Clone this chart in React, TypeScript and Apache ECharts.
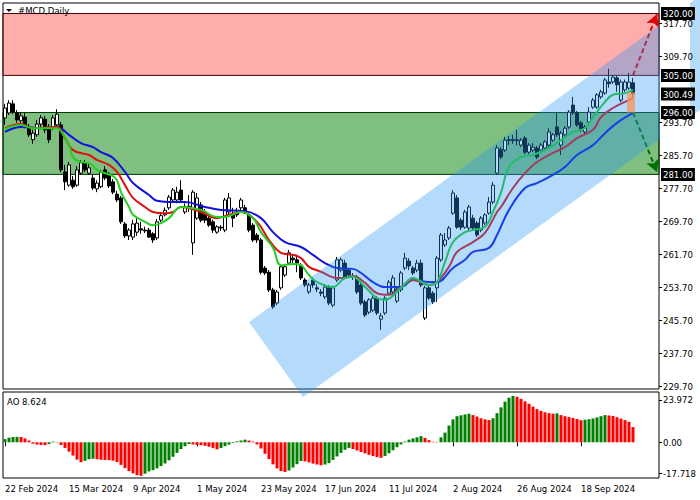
import React, { useEffect, useRef } from "react";
import * as echarts from "echarts";

const SYMBOL_TITLE = "#MCD,Daily";
const AO_TITLE = "AO 8.624";
const xTickLabels = ["22 Feb 2024", "15 Mar 2024", "9 Apr 2024", "1 May 2024", "23 May 2024", "17 Jun 2024", "11 Jul 2024", "2 Aug 2024", "26 Aug 2024", "18 Sep 2024"];
const TICK_EVERY = 16;
const BAR_COUNT = 158;
const SLOT_COUNT = 164;

// [open, close, low, high]
const candles: number[][] = [
  [294.7, 297.1, 293.0, 298.1], [295.9, 298.3, 295.4, 299.0], [298.1, 296.1, 295.6, 299.0], [295.9, 294.2, 293.5, 296.6],
  [294.0, 295.2, 293.5, 296.1], [294.9, 293.0, 292.2, 295.9], [292.5, 290.6, 290.1, 293.2], [289.4, 291.0, 288.4, 291.8],
  [290.6, 293.2, 290.1, 294.2], [293.2, 294.7, 292.5, 295.4], [294.4, 291.8, 291.0, 295.2], [292.2, 289.4, 288.6, 293.2],
  [292.2, 294.7, 291.8, 295.4], [293.0, 295.6, 292.5, 296.8], [293.0, 282.1, 281.5, 293.7], [281.6, 279.2, 277.2, 283.3],
  [278.4, 283.3, 278.0, 284.0], [279.6, 278.0, 277.5, 280.6], [278.4, 282.1, 278.0, 283.0], [281.3, 283.8, 280.9, 284.5],
  [283.8, 282.1, 281.6, 284.5], [281.3, 282.6, 280.9, 283.5], [280.1, 277.7, 277.2, 280.9], [277.5, 278.9, 276.7, 279.6],
  [278.0, 281.6, 277.7, 282.1], [282.1, 280.1, 279.6, 283.0], [281.1, 278.2, 277.7, 281.6], [279.2, 276.7, 276.2, 279.9],
  [276.2, 274.8, 274.3, 277.0], [275.3, 269.5, 269.0, 275.8], [269.0, 266.1, 265.6, 269.5], [266.1, 267.5, 265.1, 268.0],
  [265.8, 269.0, 265.1, 270.0], [267.0, 269.2, 266.1, 270.4], [267.8, 267.5, 266.6, 269.5], [267.5, 267.3, 266.8, 268.3],
  [267.5, 265.8, 265.6, 268.0], [266.6, 265.1, 264.4, 267.0], [265.6, 269.5, 265.1, 270.2], [269.9, 271.0, 269.4, 271.7],
  [271.2, 272.3, 270.8, 273.0], [272.9, 275.5, 272.4, 276.0], [274.8, 277.2, 274.3, 277.7], [274.8, 276.7, 274.0, 278.0],
  [277.2, 274.8, 274.3, 279.6], [271.9, 273.1, 271.4, 274.0], [273.1, 273.3, 271.9, 276.0], [264.4, 276.7, 261.5, 277.2],
  [270.4, 275.3, 270.0, 276.5], [273.6, 269.9, 269.4, 274.3], [271.9, 269.9, 269.2, 272.6], [270.4, 268.7, 268.3, 271.2],
  [269.5, 267.5, 266.8, 270.0], [267.0, 268.3, 266.6, 268.7], [268.2, 268.0, 267.3, 268.7], [267.5, 274.8, 267.0, 275.3],
  [271.9, 275.3, 271.4, 276.5], [271.2, 270.4, 268.2, 272.9], [271.6, 271.2, 270.7, 272.9], [272.9, 274.8, 272.1, 275.3],
  [272.9, 271.9, 271.4, 273.6], [271.2, 267.5, 267.0, 271.6], [268.7, 265.1, 264.6, 269.2], [266.3, 265.1, 264.4, 266.8],
  [265.1, 257.3, 256.8, 265.6], [258.3, 257.1, 256.6, 258.8], [257.3, 253.0, 252.5, 257.8], [253.0, 248.9, 248.4, 253.5],
  [249.8, 252.5, 249.3, 253.0], [253.5, 258.6, 253.0, 259.0], [256.6, 258.6, 256.1, 259.3], [259.5, 262.0, 259.0, 262.7],
  [260.7, 260.3, 259.5, 261.5], [260.3, 259.5, 257.3, 261.5], [259.0, 255.9, 255.4, 259.5], [255.4, 254.2, 253.7, 255.9],
  [252.5, 254.2, 252.0, 254.7], [255.4, 254.2, 253.5, 256.1], [253.5, 253.2, 252.5, 254.4], [252.5, 252.2, 251.5, 253.2],
  [251.3, 253.7, 250.8, 254.4], [253.5, 249.8, 249.3, 254.2], [249.3, 253.5, 248.8, 254.0], [255.4, 260.3, 254.9, 261.0],
  [257.8, 260.3, 257.3, 260.8], [259.5, 256.1, 255.6, 260.3], [257.8, 256.6, 256.1, 258.3], [256.3, 256.1, 255.4, 257.1],
  [256.1, 252.5, 252.0, 256.6], [254.2, 249.8, 249.3, 254.7], [250.1, 246.9, 246.4, 250.6], [247.6, 250.6, 247.1, 251.0],
  [248.1, 251.0, 247.6, 251.5], [251.0, 247.4, 246.9, 251.5], [245.9, 246.7, 243.3, 247.4], [247.4, 251.0, 246.9, 251.5],
  [252.2, 254.9, 251.8, 255.4], [252.5, 255.9, 252.0, 256.6], [250.3, 253.2, 249.8, 253.7], [253.0, 257.1, 252.5, 257.6],
  [258.3, 260.7, 257.8, 262.0], [260.0, 258.8, 257.8, 260.7], [258.3, 257.1, 256.6, 258.8], [257.8, 259.5, 257.3, 260.3],
  [259.5, 254.2, 253.7, 260.3], [246.2, 253.5, 245.7, 254.0], [253.5, 251.0, 250.6, 254.0], [252.2, 250.1, 249.6, 252.7],
  [253.5, 260.7, 250.1, 261.2], [260.3, 266.3, 259.8, 266.8], [263.9, 265.1, 263.4, 266.8], [265.6, 268.0, 265.1, 268.5],
  [271.6, 276.5, 271.2, 277.2], [275.3, 268.2, 267.8, 276.0], [269.9, 268.2, 267.5, 270.4], [268.2, 271.9, 267.8, 272.4],
  [268.0, 273.1, 267.5, 273.6], [270.4, 268.0, 267.5, 271.2], [269.2, 266.3, 265.8, 269.7], [267.5, 270.4, 267.0, 270.9],
  [269.2, 271.2, 268.7, 271.6], [271.6, 274.3, 271.2, 275.5], [274.3, 278.4, 273.8, 279.2], [281.3, 287.4, 280.9, 288.1],
  [287.0, 285.2, 284.7, 287.6], [286.9, 289.3, 286.4, 290.1], [289.4, 289.2, 288.1, 290.3], [289.2, 289.5, 288.4, 290.6],
  [289.4, 289.2, 288.1, 291.8], [288.1, 289.3, 287.6, 289.8], [289.8, 286.4, 285.9, 290.3], [286.4, 288.1, 285.9, 288.6],
  [286.9, 287.6, 286.4, 288.6], [287.4, 285.2, 284.7, 287.9], [286.9, 288.1, 286.4, 288.6], [287.4, 288.9, 286.9, 289.3],
  [288.1, 291.3, 287.6, 292.2], [289.3, 290.6, 288.9, 291.0], [292.5, 290.6, 290.1, 295.9], [288.1, 291.0, 285.7, 291.5],
  [290.6, 292.2, 290.1, 292.7], [292.5, 296.1, 292.0, 296.6], [297.8, 295.9, 295.4, 299.8], [295.9, 293.0, 292.5, 296.4],
  [293.5, 291.8, 291.3, 294.0], [291.3, 292.5, 290.8, 293.0], [293.7, 296.1, 293.2, 297.3], [297.3, 299.0, 296.9, 299.5],
  [297.3, 300.3, 296.9, 300.7], [299.8, 301.0, 299.3, 301.5], [300.7, 303.9, 300.3, 304.4], [303.4, 303.0, 302.0, 306.6],
  [303.4, 304.6, 302.9, 305.1], [304.4, 302.7, 301.0, 304.9], [299.0, 303.4, 298.5, 304.0], [301.5, 303.4, 301.0, 304.0],
  [301.9, 303.4, 301.5, 305.6], [303.2, 300.49, 299.5, 304.4],
];

// moving averages: [bar index, price]
const lipsLine: number[][] = [
  [0, 292.0], [4, 293.0], [7, 292.2], [9, 292.2], [13, 292.2], [14, 291.5], [16, 288.1], [17, 285.2], [19, 284.0], [21, 283.8],
  [23, 282.1], [25, 281.3], [27, 280.6], [28, 279.6], [29, 276.7], [31, 273.1], [32, 271.2], [35, 269.5], [37, 268.7], [39, 269.2],
  [41, 270.4], [44, 273.1], [49, 272.4], [53, 270.7], [55, 270.7], [59, 271.9], [62, 270.4], [64, 267.0], [67, 263.2], [69, 259.0],
  [72, 259.3], [74, 259.0], [76, 256.6], [78, 254.9], [82, 253.7], [85, 255.9], [87, 256.1], [90, 253.7], [93, 251.0], [95, 250.6],
  [99, 253.5], [102, 255.9], [106, 254.2], [108, 254.9], [110, 259.8], [112, 264.6], [115, 267.0], [117, 267.5], [120, 268.3],
  [122, 271.9], [124, 276.6], [126, 282.8], [129, 285.2], [132, 285.7], [136, 287.4], [139, 289.3], [142, 291.3], [145, 292.2],
  [147, 294.9], [150, 298.6], [152, 300.3], [155, 300.7], [157, 301.5],
];
const teethLine: number[][] = [
  [0, 292.2], [4, 293.2], [7, 292.2], [13, 292.5], [15, 289.8], [17, 286.9], [21, 285.7], [23, 284.5], [26, 283.3], [28, 281.6],
  [30, 278.4], [32, 275.3], [35, 273.1], [37, 271.9], [40, 271.6], [42, 271.9], [44, 273.1], [49, 271.9], [53, 270.4], [56, 271.2],
  [59, 271.9], [63, 269.5], [66, 265.1], [69, 262.0], [72, 261.5], [74, 260.7], [76, 258.6], [79, 257.4], [83, 255.9], [85, 255.9],
  [87, 256.4], [90, 254.7], [93, 252.2], [96, 251.8], [99, 253.7], [102, 255.4], [106, 254.2], [108, 254.9], [111, 258.6],
  [113, 262.2], [117, 264.6], [120, 266.8], [123, 271.9], [124, 273.1], [127, 277.7], [130, 281.3], [133, 284.0], [137, 286.2],
  [140, 287.6], [143, 289.8], [147, 291.8], [149, 294.9], [152, 297.1], [155, 298.6], [157, 299.5],
];
const jawLine: number[][] = [
  [0, 291.3], [4, 292.5], [9, 292.2], [13, 292.5], [16, 290.6], [19, 288.6], [22, 287.6], [24, 286.4], [27, 285.0], [30, 281.6],
  [32, 278.9], [36, 276.0], [38, 274.6], [42, 274.3], [45, 274.3], [50, 273.1], [54, 272.4], [60, 272.1], [64, 270.4], [67, 267.0],
  [70, 264.6], [74, 263.4], [77, 261.5], [80, 259.5], [83, 258.3], [87, 258.1], [89, 257.1], [92, 254.9], [95, 253.7], [99, 253.7],
  [102, 255.4], [106, 254.9], [108, 254.9], [112, 258.3], [115, 260.3], [117, 262.2], [121, 263.2], [123, 266.3], [126, 272.4],
  [130, 277.7], [133, 278.9], [137, 280.9], [140, 282.8], [143, 285.7], [147, 288.1], [150, 291.0], [153, 293.5], [157, 295.9],
];

const aoValues: number[] = [
  1.8, 2.6, 3.0, 3.1, 3.0, 2.2, 1.0, -0.8, -1.3, -1.5, -1.6, -1.0, 0.4, 0.2, -1.5, -3.2, -5.3, -7.5, -9.8, -11.3,
  -10.5, -9.6, -9.3, -9.6, -9.9, -10.0, -10.1, -10.4, -11.2, -12.8, -14.6, -16.3, -17.6, -18.6, -19.0, -17.8, -16.5, -15.8, -14.8, -13.5,
  -12.0, -10.2, -8.2, -6.0, -3.8, -2.2, -1.0, -1.2, -1.5, -1.6, -2.0, -2.5, -3.2, -4.0, -3.2, -2.2, -1.3, -0.4, 0.5, 1.0,
  1.5, 1.0, 0.4, -1.2, -3.5, -6.5, -9.5, -12.5, -14.8, -16.3, -16.8, -16.0, -14.3, -12.4, -10.6, -10.8, -11.4, -12.1, -12.6, -13.0,
  -12.6, -11.8, -10.0, -8.0, -6.0, -4.2, -3.2, -3.8, -4.6, -5.5, -6.3, -7.1, -7.8, -8.4, -8.8, -7.8, -6.2, -4.5, -2.8, -1.2,
  0.4, 1.5, 2.2, 2.8, 3.5, 2.5, 1.2, 0.3, 0.2, 2.8, 5.5, 9.5, 13.0, 14.8, 15.3, 15.8, 16.2, 15.4, 14.6, 13.6,
  13.0, 12.6, 13.6, 16.5, 19.8, 23.0, 25.3, 26.3, 25.8, 24.6, 23.2, 21.8, 20.2, 18.8, 17.8, 17.0, 16.5, 16.2, 16.4, 15.4,
  14.8, 14.3, 13.8, 13.2, 12.5, 12.8, 13.1, 13.5, 14.1, 14.8, 15.4, 15.2, 14.9, 14.2, 13.4, 12.6, 11.6, 8.6,
];

// 301.70 sits under the 300.49 price box in the reference, so it is left out
const priceTicks = [229.7, 237.7, 245.7, 253.7, 261.7, 269.7, 277.7, 285.7, 293.7, 309.7, 317.7];
const aoTicks = [23.972, 0, -17.718];
const sellZone = [320, 305];
const buyZone = [296, 281];
const boxedLevels = [320, 305, 296, 281, 300.49];
// channel corners [bar index, price]
const channelCorners = [[61, 245.2], [180, 328.7], [193.5, 310.5], [74.5, 227.0]];
const upArrow = [[157, 305], [163, 319.8]];
const downArrow = [[157, 296], [162.5, 281.6]];
const lastBarBox = [[156, 300.9], [157, 296.0]];

const FONT = '"DejaVu Sans Condensed", "DejaVu Sans", sans-serif';
const FS = 9.5;

export default function App() {
  const ref = useRef<HTMLDivElement>(null);
  useEffect(() => {
    if (!ref.current) return;
    const chart = echarts.init(ref.current, undefined, { renderer: "svg" });
    const cats = Array.from({ length: SLOT_COUNT }, (_, i) => String(i));
    const showTick = (i: number) => i % TICK_EVERY === 0 && i < BAR_COUNT;
    const aoData = aoValues.map((v, i) => ({
      value: v,
      itemStyle: { color: i === 0 || v > aoValues[i - 1] ? "#008000" : "#ff0000" },
    }));
    const option: any = {
      animation: false,
      backgroundColor: "#fff",
      grid: [
        { left: 3, top: 3, width: 656, height: 386, show: true, borderColor: "#000", borderWidth: 1, backgroundColor: "transparent" },
        { left: 3, top: 392, width: 656, height: 86, show: true, borderColor: "#000", borderWidth: 1, backgroundColor: "transparent" },
      ],
      xAxis: [
        { type: "category", gridIndex: 0, data: cats, boundaryGap: true, axisLine: { show: false }, axisTick: { show: false }, axisLabel: { show: false }, splitLine: { show: false } },
        {
          type: "category", gridIndex: 1, data: cats, boundaryGap: true,
          axisLine: { show: false },
          axisTick: { show: true, interval: (i: number) => showTick(i), alignWithLabel: true, length: 4, lineStyle: { color: "#000" } },
          axisLabel: {
            interval: (i: number) => showTick(i),
            formatter: (_v: string, i: number) => (showTick(i) ? xTickLabels[i / TICK_EVERY] : ""),
            align: "left", margin: 5, color: "#000", fontSize: FS, fontFamily: FONT,
          },
          splitLine: { show: false },
        },
      ],
      yAxis: [
        {
          type: "value", gridIndex: 0, position: "right", min: 228.98, max: 322.55, z: 7,
          splitLine: { show: false }, axisLine: { show: false },
          axisTick: { show: true, customValues: priceTicks, length: 3, lineStyle: { color: "#000" } },
          axisLabel: { customValues: priceTicks, formatter: (v: number) => v.toFixed(2), color: "#000", fontSize: FS, fontFamily: FONT, margin: 4 },
        },
        {
          type: "value", gridIndex: 1, position: "right", min: -20.23, max: 28.5, z: 7,
          splitLine: { show: false }, axisLine: { show: false },
          axisTick: { show: true, customValues: aoTicks, length: 3, lineStyle: { color: "#000" } },
          axisLabel: { customValues: aoTicks, formatter: (v: number) => (v === 0 ? "0.00" : v.toFixed(3)), color: "#000", fontSize: FS, fontFamily: FONT, margin: 4 },
        },
      ],
      series: [
        {
          type: "candlestick", xAxisIndex: 0, yAxisIndex: 0, data: candles, barWidth: 3, z: 2,
          itemStyle: { color: "#ffffff", color0: "#000000", borderColor: "#000000", borderColor0: "#000000", borderWidth: 1 },
        },
        { type: "line", xAxisIndex: 0, yAxisIndex: 0, data: jawLine, smooth: 0.4, showSymbol: false, z: 3, lineStyle: { color: "#1010e0", width: 2 } },
        { type: "line", xAxisIndex: 0, yAxisIndex: 0, data: teethLine, smooth: 0.4, showSymbol: false, z: 3, lineStyle: { color: "#e01010", width: 2 } },
        { type: "line", xAxisIndex: 0, yAxisIndex: 0, data: lipsLine, smooth: 0.4, showSymbol: false, z: 3, lineStyle: { color: "#22d022", width: 2 } },
        {
          type: "line", xAxisIndex: 0, yAxisIndex: 0, data: [], z: 4, clip: false,
          markArea: {
            silent: true,
            data: [
              [{ yAxis: sellZone[0], itemStyle: { color: "rgba(255,70,70,0.45)", borderColor: "#500000", borderWidth: 1 } }, { yAxis: sellZone[1] }],
              [{ yAxis: buyZone[0], itemStyle: { color: "rgba(0,128,0,0.5)", borderColor: "#003800", borderWidth: 1 } }, { yAxis: buyZone[1] }],
            ],
          },
        },
        {
          type: "line", xAxisIndex: 0, yAxisIndex: 0, data: [], z: 6, clip: false,
          markLine: {
            silent: true, symbol: ["none", "arrow"], symbolSize: [10, 12],
            label: { show: false },
            data: [
              [{ coord: upArrow[0], lineStyle: { color: "#e00000", width: 2, type: [5, 3] }, itemStyle: { color: "#e00000" } }, { coord: upArrow[1] }],
              [{ coord: downArrow[0], lineStyle: { color: "#007000", width: 2, type: [5, 3] }, itemStyle: { color: "#007000" } }, { coord: downArrow[1] }],
            ],
          },
        },
        { type: "bar", xAxisIndex: 1, yAxisIndex: 1, data: aoData, barWidth: 3, z: 2 },
      ],
    };
    chart.setOption(option);

    const a = chart.convertToPixel({ gridIndex: 0 }, [0, 250]) as number[];
    const b = chart.convertToPixel({ gridIndex: 0 }, [100, 300]) as number[];
    const toPx = (pt: number[]) => [a[0] + (pt[0] * (b[0] - a[0])) / 100, a[1] + ((pt[1] - 250) * (b[1] - a[1])) / 50];
    const poly = channelCorners.map(toPx);
    const box0 = toPx(lastBarBox[0]);
    const box1 = toPx(lastBarBox[1]);
    const half = (b[0] - a[0]) / 200;
    const gridRight = 3 + 656;
    const levelBoxes = boxedLevels.map((v) => ({
      type: "text", z: 9, silent: true, x: gridRight + 2, y: toPx([0, v])[1],
      style: {
        text: v.toFixed(2), fill: "#fff", backgroundColor: "#000", padding: [2, 2, 1, 2],
        fontSize: FS, fontFamily: FONT, verticalAlign: "middle", align: "left",
      },
    }));
    chart.setOption({
      graphic: [
        { type: "polygon", z: 5, silent: true, shape: { points: poly }, style: { fill: "rgba(40,150,245,0.35)" } },
        { type: "rect", z: 6, silent: true, shape: { x: gridRight + 1, y: 0, width: 30, height: 200 }, style: { fill: "#fff" } },
        { type: "rect", z: 5, silent: true, shape: { x: box0[0] - half, y: box0[1], width: box1[0] - box0[0] + 2 * half, height: box1[1] - box0[1] }, style: { fill: "rgba(250,150,90,0.75)" } },
        { type: "polygon", z: 8, silent: true, shape: { points: [[6, 9], [12, 9], [9, 12]] }, style: { fill: "#000" } },
        { type: "text", z: 8, silent: true, x: 18, y: 5, style: { text: SYMBOL_TITLE, fill: "#000", fontSize: FS, fontFamily: FONT } },
        { type: "text", z: 8, silent: true, x: 7, y: 396, style: { text: AO_TITLE, fill: "#000", fontSize: FS, fontFamily: FONT } },
        ...levelBoxes,
      ],
    });
    return () => chart.dispose();
  }, []);
  return <div ref={ref} style={{ width: 700, height: 500, position: "absolute", left: 0, top: 0 }} />;
}
